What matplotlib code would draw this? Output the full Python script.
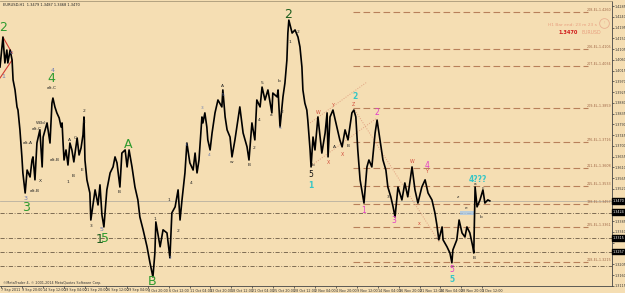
#!/usr/bin/env python3
"""
EURUSD H1 chart with Elliott wave labels, MetaTrader 4 style.
Saves the figure to out.png (625x293 px).
"""

import matplotlib
matplotlib.use("Agg")
import matplotlib.pyplot as plt
from matplotlib.patches import Rectangle

BG = "#F5DEB3"

# price path (bar index = trading hours since 7 Sep 00:00)
PRICE_BARS = [
    0, 9, 15, 21, 24, 31, 37, 40, 46, 52, 55, 61, 67, 70, 77, 83, 92, 98, 101, 107,
    113, 122, 129, 132, 144, 153, 159, 162, 168, 174, 181, 187, 190, 193, 196, 202, 208, 214, 220, 226,
    236, 242, 248, 254, 257, 260, 263, 266, 275, 278, 291, 300, 306, 312, 318, 327, 337, 346, 352, 358,
    367, 373, 383, 389, 395, 404, 413, 422, 428, 438, 450, 459, 468, 474, 477, 490, 499, 511, 520, 526,
    536, 545, 551, 557, 566, 572, 581, 591, 597, 603, 609, 618, 621, 627, 633, 636, 643, 649, 658, 667,
    679, 682, 689, 695, 704, 710, 719, 734, 744, 756, 762, 771, 780, 786, 796, 802, 811, 820, 832, 835,
    848, 851, 857, 866, 872, 878, 881, 884, 894, 903, 912, 918, 924, 927, 933, 939, 942, 949, 952, 958,
    964, 973, 985, 995, 1001, 1004, 1010, 1019, 1031, 1040, 1047, 1056, 1065, 1077, 1083, 1089, 1095, 1102, 1111, 1114,
    1123, 1129, 1138, 1148, 1154, 1163, 1172, 1181, 1187, 1196, 1203, 1209, 1218, 1230, 1239, 1248, 1261, 1270, 1279, 1291,
    1301, 1310, 1322, 1331, 1337, 1343, 1353, 1356, 1368, 1377, 1383, 1386, 1398, 1405, 1414, 1423, 1429, 1438, 1447, 1450,
    1454, 1460, 1469, 1478, 1484, 1493, 1499,
]
PRICES = [
    1.4030, 1.4155, 1.4047, 1.4101, 1.4047, 1.4101, 1.4059, 1.3976, 1.3934, 1.3863, 1.3850, 1.3767, 1.3654, 1.3587, 1.3503, 1.3599, 1.3570, 1.3641, 1.3654, 1.3558,
    1.3712, 1.3767, 1.3612, 1.3737, 1.3796, 1.3712, 1.3879, 1.3900, 1.3863, 1.3838, 1.3817, 1.3779, 1.3796, 1.3712, 1.3641, 1.3683, 1.3620, 1.3712, 1.3683, 1.3633,
    1.3733, 1.3662, 1.3691, 1.3746, 1.3821, 1.3641, 1.3599, 1.3558, 1.3503, 1.3390, 1.3516, 1.3453, 1.3537, 1.3411, 1.3361, 1.3516, 1.3587, 1.3612, 1.3654, 1.3629,
    1.3528, 1.3670, 1.3683, 1.3612, 1.3683, 1.3612, 1.3528, 1.3474, 1.3403, 1.3349, 1.3278, 1.3211, 1.3152, 1.3252, 1.3382, 1.3278, 1.3349, 1.3336, 1.3232, 1.3420,
    1.3445, 1.3516, 1.3390, 1.3474, 1.3587, 1.3712, 1.3629, 1.3599, 1.3670, 1.3587, 1.3641, 1.3821, 1.3796, 1.3838, 1.3779, 1.3725, 1.3683, 1.3754, 1.3838, 1.3892,
    1.3863, 1.3934, 1.3821, 1.3767, 1.3737, 1.3654, 1.3725, 1.3863, 1.3754, 1.3696, 1.3641, 1.3796, 1.3725, 1.3892, 1.3863, 1.3946, 1.3892, 1.3934, 1.3838, 1.3921,
    1.3905, 1.3934, 1.3779, 1.3905, 1.3963, 1.4059, 1.4172, 1.4226, 1.4172, 1.4185, 1.4155, 1.4114, 1.4030, 1.3934, 1.3879, 1.3850, 1.3808, 1.3683, 1.3612, 1.3737,
    1.3683, 1.3821, 1.3670, 1.3754, 1.3838, 1.3654, 1.3821, 1.3850, 1.3779, 1.3725, 1.3696, 1.3767, 1.3725, 1.3838, 1.3850, 1.3821, 1.3683, 1.3558, 1.3487, 1.3461,
    1.3612, 1.3641, 1.3612, 1.3754, 1.3808, 1.3725, 1.3641, 1.3599, 1.3528, 1.3487, 1.3445, 1.3403, 1.3528, 1.3474, 1.3545, 1.3487, 1.3612, 1.3516, 1.3461, 1.3528,
    1.3558, 1.3503, 1.3474, 1.3420, 1.3370, 1.3307, 1.3361, 1.3307, 1.3278, 1.3252, 1.3211, 1.3265, 1.3307, 1.3390, 1.3336, 1.3319, 1.3361, 1.3336, 1.3278, 1.3252,
    1.3528, 1.3445, 1.3474, 1.3516, 1.3461, 1.3474, 1.3470,
]

# time axis
XTICK_LABELS = [
    "7 Sep 2011", "9 Sep 20:00", "14 Sep 12:00", "19 Sep 04:00", "21 Sep 20:00",
    "26 Sep 12:00", "29 Sep 04:00", "3 Oct 20:00", "6 Oct 12:00", "11 Oct 04:00",
    "13 Oct 20:00", "18 Oct 12:00", "21 Oct 04:00", "25 Oct 20:00", "28 Oct 12:00",
    "2 Nov 04:00", "4 Nov 20:00", "9 Nov 12:00", "14 Nov 04:00", "16 Nov 20:00",
    "21 Nov 12:00", "24 Nov 04:00", "28 Nov 20:00", "1 Dec 12:00",
]
BARS_PER_LABEL = 64

# price axis
YTICK_TOP = 1.4285
YTICK_STEP = 0.0045
YTICK_COUNT = 27

# horizontal levels
LEVEL_PRICES = [1.4260, 1.4105, 1.4034, 1.3859, 1.3716, 1.3608, 1.3533, 1.3457, 1.3361, 1.3215]
LEVEL_CODES = ["208", "206", "207", "209", "276", "211", "215", "138", "225", "218"]
DASHDOT_PRICES = [1.3420, 1.3315, 1.3257, 1.3198]
BOXED_PRICES = [1.3470, 1.3424, 1.3315, 1.3257]
BID = 1.3470

# trend lines (bar pairs, price pairs)
RED_LINES = [([0, 37], [1.3984, 1.4059]), ([9, 37], [1.4155, 1.4088])]
DOTTED_LINES = [
    ([949, 1123], [1.3796, 1.3967]),
    ([955, 1154], [1.3620, 1.3817]),
    ([1086, 1346], [1.3850, 1.3294]),
]

# wave labels: text, bar, price, style
WAVE_LABELS = [
    ("2", 9, 1.4197, "major"), ("3", 80, 1.3441, "major"), ("4", 156, 1.3980, "major"),
    ("1", 306, 1.3307, "major_dark"), ("5", 320, 1.3311, "major"),
    ("A", 392, 1.3704, "major"), ("B", 465, 1.3131, "major"), ("2", 881, 1.4251, "major_dark"),
    ("1", 952, 1.3533, "cyan"), ("2", 1086, 1.3905, "cyan"), ("4???", 1463, 1.3558, "cyan"),
    ("5", 1383, 1.3140, "cyan"),
    ("1", 1114, 1.3428, "magenta"), ("2", 1154, 1.3838, "magenta"), ("3", 1206, 1.3390, "magenta"),
    ("4", 1307, 1.3620, "magenta"), ("5", 1383, 1.3181, "magenta"),
    ("5", 952, 1.3579, "black"),
    ("3", 77, 1.3482, "blue"), ("4", 160, 1.4016, "blue"), ("5", 312, 1.3350, "blue"),
    ("1", 9, 1.3990, "blue"), ("c", 34, 1.4090, "blue"),
    ("alt.C", 159, 1.3942, "small"), ("alt.A", 86, 1.3712, "small"), ("W(b)", 125, 1.3796, "small"),
    ("alt.C", 113, 1.3771, "small"), ("alt.B", 168, 1.3641, "small"), ("alt.B", 107, 1.3512, "small"),
    ("X", 125, 1.3553, "small"), ("2", 257, 1.3845, "small"), ("E", 257, 1.3800, "small"),
    ("C", 230, 1.3733, "small"), ("A", 214, 1.3725, "small"), ("B", 223, 1.3574, "small"),
    ("1", 208, 1.3549, "small"), ("E", 251, 1.3599, "small"), ("3", 278, 1.3365, "small"),
    ("B", 364, 1.3507, "small"), ("1", 474, 1.3395, "small"), ("2", 520, 1.3232, "blue_small"),
    ("1", 517, 1.3474, "small"), ("2", 545, 1.3344, "small"), ("3", 569, 1.3704, "blue_small"),
    ("4", 584, 1.3545, "small"), ("3", 618, 1.3859, "blue_small"), ("4", 640, 1.3662, "blue_small"),
    ("5", 682, 1.3913, "blue_small"), ("A", 682, 1.3950, "small"), ("w", 710, 1.3633, "small"),
    ("B", 762, 1.3620, "small"), ("2", 777, 1.3691, "small"), ("4", 793, 1.3808, "small"),
    ("5", 802, 1.3963, "small"), ("b", 854, 1.3971, "small"), ("a", 829, 1.3829, "small"),
    ("5", 857, 1.3775, "blue_small"), ("2", 863, 1.3842, "small"), ("1", 887, 1.4134, "small"),
    ("2", 912, 1.4176, "small"), ("b", 958, 1.3620, "small"), ("A", 1025, 1.3696, "small"),
    ("B", 1065, 1.3700, "small"), ("3", 1187, 1.3487, "small"),
    ("z", 1401, 1.3487, "small"), ("e", 1426, 1.3441, "small"), ("a", 1454, 1.3540, "small"),
    ("c", 1478, 1.3524, "small"), ("b", 1472, 1.3403, "small"), ("B", 1450, 1.3232, "small"),
    ("W", 973, 1.3838, "red"), ("Y", 1019, 1.3871, "red"), ("X", 1004, 1.3629, "red"),
    ("X", 1047, 1.3662, "red"), ("Z", 1083, 1.3875, "red"), ("W", 1261, 1.3633, "red"),
    ("Y", 1307, 1.3591, "red"), ("x", 1282, 1.3374, "red"),
]

LABEL_STYLES = {
    "major": dict(color="#2E9B2E", fontsize=9),
    "major_dark": dict(color="#1E5E1E", fontsize=9),
    "cyan": dict(color="#36C6C6", fontsize=5.5, fontweight="bold"),
    "magenta": dict(color="#E23CC8", fontsize=5.5),
    "black": dict(color="#111111", fontsize=5.5),
    "blue": dict(color="#6A78B0", fontsize=4.5),
    "blue_small": dict(color="#7080B0", fontsize=3.2),
    "small": dict(color="#222222", fontsize=3.2),
    "red": dict(color="#D04A3A", fontsize=3.4),
}


def draw_levels(ax, x_end):
    """Horizontal lines across or to the right of the chart."""
    ax.axhline(BID, color="#B8B0A0", lw=0.6, zorder=1)
    for p in DASHDOT_PRICES:
        ax.axhline(p, color="#6B5A45", lw=0.6, ls=(0, (5, 2, 1, 2)), zorder=1)
    for p, code in zip(LEVEL_PRICES, LEVEL_CODES):
        ax.plot([1080, 1799], [p, p], color="#B8805A", lw=0.8, ls=(0, (6, 3)), zorder=1)
        ax.text(x_end - 3, p, f"{code}-EL-{p:.4f}", color="#A06848", fontsize=2.4,
                ha="right", va="bottom")


def draw_axes(ax, x_end, y_bottom, y_top):
    ax.set_xlim(0, x_end)
    ax.set_ylim(y_bottom, y_top)

    xticks = [4 + BARS_PER_LABEL * k for k in range(len(XTICK_LABELS))]
    ax.set_xticks(xticks)
    ax.set_xticklabels(XTICK_LABELS)
    for lbl in ax.get_xticklabels():
        lbl.set_ha("left")
    ax.tick_params(axis="x", length=1.5, width=0.5, pad=0.3, labelsize=2.4,
                   colors="#333333", direction="out")

    # the black price boxes sit on top of the nearby scale labels
    yticks = [YTICK_TOP - YTICK_STEP * k for k in range(YTICK_COUNT)]
    ylabels = []
    for v in yticks:
        hidden = any(abs(v - p) < 0.0024 for p in BOXED_PRICES)
        ylabels.append("" if hidden else f"{v:.4f}")
    ax.yaxis.tick_right()
    ax.set_yticks(yticks)
    ax.set_yticklabels(ylabels)
    ax.tick_params(axis="y", length=1.5, width=0.5, pad=0.5, labelsize=2.4,
                   colors="#333333", direction="out")

    ax.spines["left"].set_visible(False)
    ax.spines["top"].set_color("#A89878")
    ax.spines["top"].set_linewidth(0.6)
    for side in ("right", "bottom"):
        ax.spines[side].set_color("#444444")
        ax.spines[side].set_linewidth(0.6)

    for p in BOXED_PRICES:
        ax.annotate(f"{p:.4f}", xy=(1.0, p), xycoords=("axes fraction", "data"),
                    xytext=(0.6, 0), textcoords="offset points", fontsize=2.4,
                    color="white", va="center", ha="left",
                    bbox=dict(boxstyle="square,pad=0.2", fc="black", ec="black"),
                    annotation_clip=False)


def main():
    fig = plt.figure(figsize=(6.25, 2.93), dpi=100, facecolor=BG)
    ax = fig.add_axes([0.0, 7 / 293, 612 / 625, 285 / 293])
    ax.set_facecolor(BG)

    x_end = 1873
    draw_axes(ax, x_end, 1.3114, 1.4306)
    draw_levels(ax, x_end)

    # trend lines
    for xs, ys in RED_LINES:
        ax.plot(xs, ys, color="#D03A30", lw=0.8, zorder=2)
    for xs, ys in DOTTED_LINES:
        ax.plot(xs, ys, color="#E0A080", lw=0.7, ls=(0, (1, 1.5)), zorder=2)

    # highlight box near the last swing
    ax.add_patch(Rectangle((1408, 1.3411), 46, 0.0017, fc="#A8C8E8", ec="none",
                           alpha=0.8, zorder=2))

    # price
    ax.plot(PRICE_BARS, PRICES, color="black", lw=1.2, zorder=3)

    for text, bar, price, style in WAVE_LABELS:
        ax.text(bar, price, text, ha="center", va="center", zorder=4,
                **LABEL_STYLES[style])

    # header / footer texts
    fig.text(3 / 625, 1 - 5 / 293, "EURUSD,H1  1.3479 1.3487 1.3468 1.3470",
             fontsize=2.6, color="#222222", va="center")
    fig.text(3 / 625, 10 / 293,
             "©MetaTrader 4, © 2001-2014 MetaQuotes Software Corp.",
             fontsize=2.4, color="#333333", va="center")
    fig.text(597 / 625, 1 - 25 / 293, "H1 Bar end: 23 m 23 s", fontsize=3.2,
             color="#E8A080", ha="right", va="center")
    fig.text(578 / 625, 1 - 33 / 293, "1.3470", fontsize=3.6, color="#D01818",
             fontweight="bold", ha="right", va="center")
    fig.text(581 / 625, 1 - 33 / 293, "EURUSD", fontsize=3.4, color="#E8A080",
             ha="left", va="center")
    ax.plot([1848], [1.4214], marker="o", ms=7, mfc="none", mec="#E8B090",
            mew=0.6, clip_on=False)
    ax.text(1848, 1.4214, "!", fontsize=3, color="#E8B090", ha="center", va="center")

    fig.savefig("out.png", dpi=100, facecolor=BG)


if __name__ == "__main__":
    main()
